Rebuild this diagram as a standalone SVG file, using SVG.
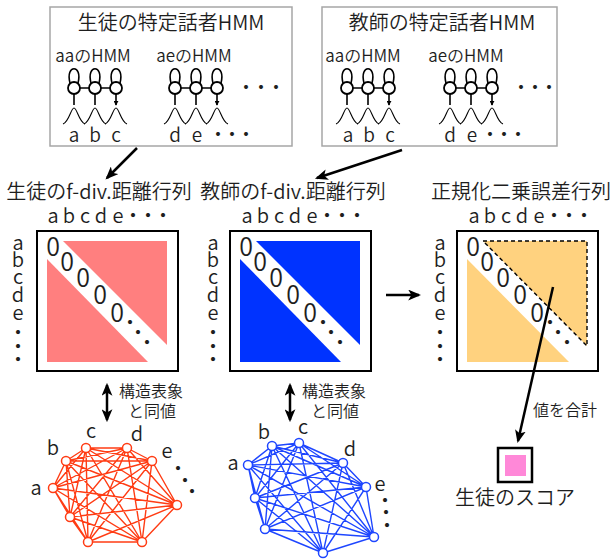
<svg xmlns="http://www.w3.org/2000/svg" xmlns:xlink="http://www.w3.org/1999/xlink" width="614" height="560" viewBox="0 0 614 560">
  <style>
    text { font-family: "Noto Sans CJK JP", "Noto Sans", sans-serif; font-weight: 350; fill: #1e1e1e; }
    .title { font-size: 20px; text-anchor: middle; }
    .sub { font-size: 17px; text-anchor: middle; }
    .let { font-size: 19px; text-anchor: middle; }
    .sec { font-size: 20px; text-anchor: middle; }
    .lab { font-size: 20px; text-anchor: middle; }
    .zero { font-size: 25px; text-anchor: middle; }
    .note { font-size: 16px; text-anchor: middle; }
    .panel { fill: #fff; stroke: #a6a6a6; stroke-width: 1.5; }
    .mat { fill: #fff; stroke: #000; stroke-width: 2; }
    .hl { fill: none; stroke: #000; stroke-width: 1.6; }
    .gs { fill: none; stroke: #000; stroke-width: 1.1; }
    .st { fill: #fff; stroke: #000; stroke-width: 1.8; }
    .arr { fill: none; stroke: #000; stroke-width: 2.5; }
    .red { fill: none; stroke: #ff3c14; stroke-width: 1.4; }
    .blue { fill: none; stroke: #1e46ff; stroke-width: 1.4; }
    .rn { fill: #fff; stroke: #ff3c14; stroke-width: 1.5; }
    .bn { fill: #fff; stroke: #1e46ff; stroke-width: 1.5; }
  </style>
  <defs>
    <marker id="ah" viewBox="0 0 12 10" refX="10" refY="5" markerWidth="13" markerHeight="11" orient="auto-start-reverse" markerUnits="userSpaceOnUse">
      <path d="M0,0 L12,5 L0,10 L3,5 z" fill="#000"/>
    </marker>
    <marker id="ahs" viewBox="0 0 6 6" refX="5" refY="3" markerWidth="5" markerHeight="5" orient="auto" markerUnits="userSpaceOnUse">
      <path d="M0,0 L6,3 L0,6 z" fill="#000"/>
    </marker>
    <!-- three-state left-to-right HMM, first state at the origin -->
    <g id="hmm">
      <path class="hl" d="M-4,-5 C-9,-24 9,-24 4,-5 M17,-5 C12,-24 30,-24 25,-5 M38,-5 C33,-24 51,-24 46,-5"/>
      <path class="hl" d="M0,0 H42"/>
      <circle class="st" cx="0" cy="0" r="6"/>
      <circle class="st" cx="21" cy="0" r="6"/>
      <circle class="st" cx="42" cy="0" r="6"/>
      <path class="hl" stroke-width="1" d="M0,6 V17 M21,6 V17 M42,6 V17" marker-end="url(#ahs)"/>
      <path class="gs" d="M-11,36 C-5,34 -3,20 0,20 C3,20 5,34 11,36 M10,36 C16,34 18,20 21,20 C24,20 26,34 32,36 M31,36 C37,34 39,20 42,20 C45,20 47,34 53,36"/>
    </g>
  </defs>

  <!-- student speaker HMMs -->
  <g id="student-hmm">
    <rect class="panel" x="50" y="7" width="242" height="139"/>
    <text class="title" x="171" y="30">生徒の特定話者HMM</text>
    <text class="sub" x="93" y="62">aaのHMM</text>
    <text class="sub" x="194" y="62">aeのHMM</text>
    <use xlink:href="#hmm" x="74" y="88"/>
    <use xlink:href="#hmm" x="175" y="88"/>
    <text class="let" x="246 261 276" y="95">・・・</text>
    <text class="let" x="74 95 116" y="142">abc</text>
    <text class="let" x="175 197 218 232 246" y="142">de・・・</text>
  </g>

  <!-- teacher speaker HMMs -->
  <g id="teacher-hmm">
    <rect class="panel" x="322" y="7" width="235" height="139"/>
    <text class="title" x="442" y="30">教師の特定話者HMM</text>
    <text class="sub" x="363" y="62">aaのHMM</text>
    <text class="sub" x="466" y="62">aeのHMM</text>
    <use xlink:href="#hmm" x="347" y="88"/>
    <use xlink:href="#hmm" x="450" y="88"/>
    <text class="let" x="521 535 549" y="95">・・・</text>
    <text class="let" x="348 369 390" y="142">abc</text>
    <text class="let" x="450 472 490 504 518" y="142">de・・・</text>
  </g>

  <!-- student f-divergence matrix -->
  <g id="student-matrix">
    <text class="sec" x="99" y="199">生徒のf-div.距離行列</text>
    <text class="lab" x="53 69 85 101 118 133 148 163" y="223">abcde・・・</text>
    <text class="lab" x="18 18 18 18 18 18 18 18" y="250 267 284 302 320 340 354 367">abcde・・・</text>
    <rect class="mat" x="37" y="231" width="141" height="140"/>
    <polygon fill="#ff7f7f" points="63,241 167,241 167,345"/>
    <polygon fill="#ff7f7f" points="47,259 47,362 148,362"/>
    <text class="zero" x="53 67 83 100 117" y="256 271 287 304 322">00000</text>
    <text class="lab" x="130 138 147" y="330 340 350">・・・</text>
  </g>

  <!-- teacher f-divergence matrix -->
  <g id="teacher-matrix">
    <text class="sec" x="293" y="199">教師のf-div.距離行列</text>
    <text class="lab" x="247 263 279 295 312 327 342 357" y="223">abcde・・・</text>
    <text class="lab" x="213 213 213 213 213 213 213 213" y="250 267 284 302 320 340 354 367">abcde・・・</text>
    <rect class="mat" x="230" y="231" width="141" height="140"/>
    <polygon fill="#0033ff" points="256,241 360,241 360,345"/>
    <polygon fill="#0033ff" points="240,259 240,362 341,362"/>
    <text class="zero" x="246 260 276 293 310" y="256 271 287 304 322">00000</text>
    <text class="lab" x="323 331 340" y="330 340 350">・・・</text>
  </g>

  <!-- normalized squared-error matrix -->
  <g id="error-matrix">
    <text class="sec" x="521" y="199">正規化二乗誤差行列</text>
    <text class="lab" x="474 490 506 522 539 554 569 584" y="223">abcde・・・</text>
    <text class="lab" x="440 440 440 440 440 440 440 440" y="250 267 284 302 320 340 354 367">abcde・・・</text>
    <rect class="mat" x="457" y="231" width="141" height="140"/>
    <polygon fill="#ffd27f" stroke="#000" stroke-width="1.4" stroke-dasharray="4,3" points="483,241 587,241 587,346"/>
    <polygon fill="#ffd27f" points="467,259 467,362 569,362"/>
    <text class="zero" x="473 487 503 520 537" y="256 271 287 304 322">00000</text>
    <text class="lab" x="550 558 567" y="330 340 350">・・・</text>
  </g>

  <!-- student score -->
  <g id="score">
    <rect x="498" y="448" width="34" height="34" fill="#fff" stroke="#000" stroke-width="2.5"/>
    <rect x="505" y="455" width="21" height="21" fill="#ff88d8"/>
    <text class="sec" x="515" y="505">生徒のスコア</text>
  </g>

  <!-- student structure graph -->
  <g id="student-graph">
    <path class="red" d="M53 488L66 461M53 488L86 448M53 488L127 448M53 488L152 461M53 488L177 505M53 488L142 542M53 488L88 542M53 488L70 517
      M66 461L86 448M66 461L127 448M66 461L152 461M66 461L177 505M66 461L142 542M66 461L88 542M66 461L70 517
      M86 448L127 448M86 448L152 461M86 448L177 505M86 448L142 542M86 448L88 542M86 448L70 517
      M127 448L152 461M127 448L177 505M127 448L142 542M127 448L88 542M127 448L70 517
      M152 461L177 505M152 461L142 542M152 461L88 542M152 461L70 517
      M177 505L142 542M177 505L88 542M177 505L70 517
      M142 542L88 542M142 542L70 517
      M88 542L70 517"/>
    <circle class="rn" cx="53" cy="488" r="4.5"/>
    <circle class="rn" cx="66" cy="461" r="4.5"/>
    <circle class="rn" cx="86" cy="448" r="4.5"/>
    <circle class="rn" cx="127" cy="448" r="4.5"/>
    <circle class="rn" cx="152" cy="461" r="4.5"/>
    <circle class="rn" cx="177" cy="505" r="4.5"/>
    <circle class="rn" cx="142" cy="542" r="4.5"/>
    <circle class="rn" cx="88" cy="542" r="4.5"/>
    <circle class="rn" cx="70" cy="517" r="4.5"/>
    <text class="lab" x="36" y="495">a</text>
    <text class="lab" x="53" y="455">b</text>
    <text class="lab" x="91" y="438">c</text>
    <text class="lab" x="137" y="441">d</text>
    <text class="lab" x="167 178 185 192" y="458 476 488 499">e・・・</text>
  </g>

  <!-- teacher structure graph -->
  <g id="teacher-graph">
    <path class="blue" d="M248 465L272 446M248 465L299 443M248 465L343 463M248 465L366 487M248 465L374 537M248 465L323 553M248 465L265 529M248 465L255 498
      M272 446L299 443M272 446L343 463M272 446L366 487M272 446L374 537M272 446L323 553M272 446L265 529M272 446L255 498
      M299 443L343 463M299 443L366 487M299 443L374 537M299 443L323 553M299 443L265 529M299 443L255 498
      M343 463L366 487M343 463L374 537M343 463L323 553M343 463L265 529M343 463L255 498
      M366 487L374 537M366 487L323 553M366 487L265 529M366 487L255 498
      M374 537L323 553M374 537L265 529M374 537L255 498
      M323 553L265 529M323 553L255 498
      M265 529L255 498"/>
    <circle class="bn" cx="248" cy="465" r="4.5"/>
    <circle class="bn" cx="272" cy="446" r="4.5"/>
    <circle class="bn" cx="299" cy="443" r="4.5"/>
    <circle class="bn" cx="343" cy="463" r="4.5"/>
    <circle class="bn" cx="366" cy="487" r="4.5"/>
    <circle class="bn" cx="374" cy="537" r="4.5"/>
    <circle class="bn" cx="323" cy="553" r="4.5"/>
    <circle class="bn" cx="265" cy="529" r="4.5"/>
    <circle class="bn" cx="255" cy="498" r="4.5"/>
    <text class="lab" x="233" y="470">a</text>
    <text class="lab" x="264" y="439">b</text>
    <text class="lab" x="303" y="434">c</text>
    <text class="lab" x="350" y="456">d</text>
    <text class="lab" x="380 385 386 387" y="491 508 520 533">e・・・</text>
  </g>

  <!-- connectors -->
  <g id="connectors">
    <path class="arr" d="M137,148 L107,178" marker-end="url(#ah)"/>
    <path class="arr" d="M402,150 L317,178" marker-end="url(#ah)"/>
    <path class="arr" d="M386,295 L419,295" marker-end="url(#ah)"/>
    <path class="arr" d="M107,385 L107,420" marker-start="url(#ah)" marker-end="url(#ah)"/>
    <path class="arr" d="M290,385 L290,420" marker-start="url(#ah)" marker-end="url(#ah)"/>
    <path class="arr" d="M553,287 L518,441" marker-end="url(#ah)"/>
    <text class="note" x="151" y="397">構造表象</text>
    <text class="note" x="152" y="417">と同値</text>
    <text class="note" x="334" y="397">構造表象</text>
    <text class="note" x="335" y="417">と同値</text>
    <text class="note" x="565" y="416">値を合計</text>
  </g>
</svg>
